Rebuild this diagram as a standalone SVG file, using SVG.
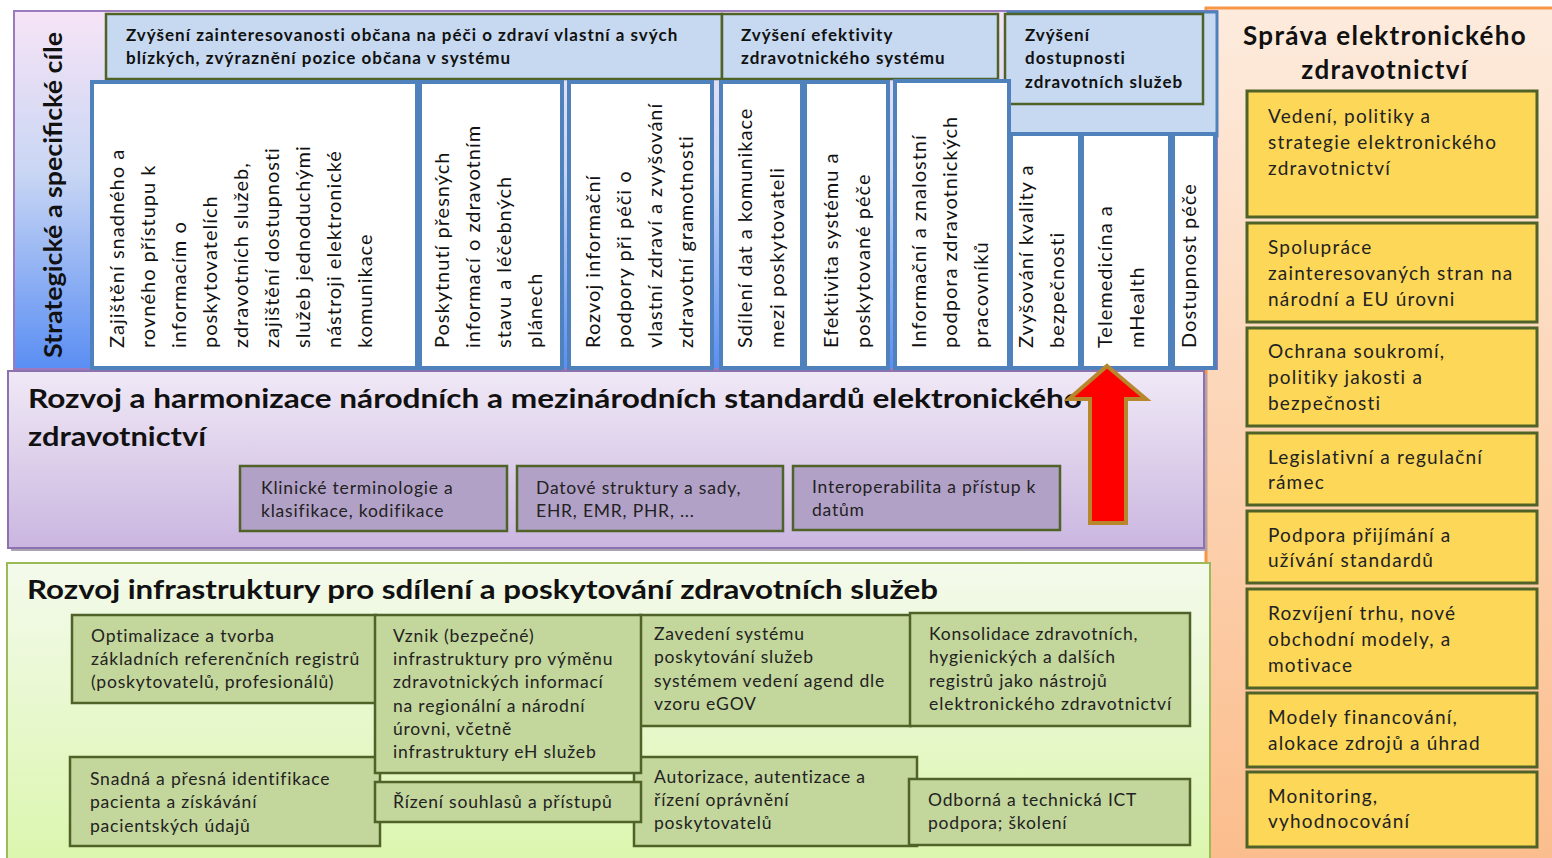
<svg xmlns="http://www.w3.org/2000/svg" width="1552" height="858" viewBox="0 0 1552 858">
<defs>
<linearGradient id="gTop" x1="0" y1="0" x2="0" y2="1">
<stop offset="0" stop-color="#f7e4f6"/><stop offset="0.45" stop-color="#c9d6f4"/><stop offset="1" stop-color="#5a8ef3"/>
</linearGradient>
<linearGradient id="gMid" x1="0" y1="0" x2="0" y2="1">
<stop offset="0" stop-color="#f0e9f6"/><stop offset="1" stop-color="#cab6e0"/>
</linearGradient>
<linearGradient id="gBot" x1="0" y1="0" x2="0" y2="1">
<stop offset="0" stop-color="#f4faec"/><stop offset="1" stop-color="#dbf6ae"/>
</linearGradient>
<linearGradient id="gOr" x1="0" y1="0" x2="0" y2="1">
<stop offset="0" stop-color="#fdebdd"/><stop offset="1" stop-color="#fbbd8c"/>
</linearGradient>
<style>
text{font-family:Lato,"Liberation Sans",sans-serif;fill:#111}
.hd{fill:#c6d9f0;stroke:#4f6228;stroke-width:2.5}
.hdt{font-size:17px;font-weight:bold;letter-spacing:1px}
.vb{fill:#fff;stroke:#4f81bd;stroke-width:4}
.vt{font-size:20px;letter-spacing:1px}
.pb{fill:#b2a1c7;stroke:#4f6228;stroke-width:2.5}
.gb{fill:#c3d69b;stroke:#4f6228;stroke-width:2.5}
.yb{fill:#fdd757;stroke:#4f6228;stroke-width:3}
.st{font-size:17.5px;fill:#222;letter-spacing:0.8px}
.yt{font-size:19px;fill:#222;letter-spacing:1.2px}
.title{font-size:26px;font-weight:bold}
.rt{font-size:26px;font-weight:bold;letter-spacing:1.3px}
</style>
</defs>

<g id="orange-panel">
<rect x="1206" y="8" width="352" height="856" fill="url(#gOr)" stroke="#f79646" stroke-width="3"/>
<text class="rt" x="1385" y="45" text-anchor="middle">Správa elektronického</text>
<text class="rt" x="1385" y="79" text-anchor="middle">zdravotnictví</text>
</g>

<g id="top-panel">
<rect x="14" y="11" width="1203" height="358" fill="url(#gTop)" stroke="#9b7bbd" stroke-width="2"/>
<text transform="translate(62,358) rotate(-90)" style="font-size:25px;font-weight:bold" textLength="326" lengthAdjust="spacingAndGlyphs">Strategické a specifické cíle</text>
<rect x="1008" y="12" width="209" height="124" fill="#c6d9f0" stroke="#4f81bd" stroke-width="3"/>
</g>

<g id="header-1"><rect class="hd" x="106" y="14" width="616" height="65"/>
<text class="hdt" x="126" y="41">Zvýšení zainteresovanosti občana na péči o zdraví vlastní a svých</text>
<text class="hdt" x="126" y="64">blízkých, zvýraznění pozice občana v systému</text></g>
<g id="header-2"><rect class="hd" x="722" y="14" width="276" height="65"/>
<text class="hdt" x="741" y="41">Zvýšení efektivity</text>
<text class="hdt" x="741" y="64">zdravotnického systému</text></g>
<g id="header-3"><rect class="hd" x="1005" y="14" width="198" height="90"/>
<text class="hdt" x="1025" y="41">Zvýšení</text>
<text class="hdt" x="1025" y="64">dostupnosti</text>
<text class="hdt" x="1025" y="88">zdravotních služeb</text></g>

<g id="goal-a"><rect class="vb" x="92" y="82" width="325" height="286"/>
<text class="vt" transform="translate(124,348) rotate(-90)"><tspan x="0" y="0">Zajištění snadného a</tspan><tspan x="0" dy="31">rovného  přístupu k</tspan><tspan x="0" dy="31">informacím o</tspan><tspan x="0" dy="31">poskytovatelích</tspan><tspan x="0" dy="31">zdravotních služeb,</tspan><tspan x="0" dy="31">zajištění dostupnosti</tspan><tspan x="0" dy="31">služeb  jednoduchými</tspan><tspan x="0" dy="31">nástroji elektronické</tspan><tspan x="0" dy="31">komunikace</tspan></text></g>
<g id="goal-b"><rect class="vb" x="420" y="82" width="142" height="286"/>
<text class="vt" transform="translate(449,348) rotate(-90)"><tspan x="0" y="0">Poskytnutí přesných</tspan><tspan x="0" dy="31">informací o zdravotním</tspan><tspan x="0" dy="31">stavu a léčebných</tspan><tspan x="0" dy="31">plánech</tspan></text></g>
<g id="goal-c"><rect class="vb" x="569" y="82" width="143" height="286"/>
<text class="vt" transform="translate(600,348) rotate(-90)"><tspan x="0" y="0">Rozvoj informační</tspan><tspan x="0" dy="31">podpory při péči o</tspan><tspan x="0" dy="31">vlastní zdraví a zvyšování</tspan><tspan x="0" dy="31">zdravotní gramotnosti</tspan></text></g>
<g id="goal-d"><rect class="vb" x="721" y="82" width="81" height="286"/>
<text class="vt" transform="translate(752,348) rotate(-90)"><tspan x="0" y="0">Sdílení dat a komunikace</tspan><tspan x="0" dy="32">mezi poskytovateli</tspan></text></g>
<g id="goal-e"><rect class="vb" x="805" y="82" width="83" height="286"/>
<text class="vt" transform="translate(838,348) rotate(-90)"><tspan x="0" y="0">Efektivita systému a</tspan><tspan x="0" dy="32">poskytované péče</tspan></text></g>
<g id="goal-f"><rect class="vb" x="895" y="81" width="114" height="287"/>
<text class="vt" transform="translate(926,348) rotate(-90)"><tspan x="0" y="0">Informační a znalostní</tspan><tspan x="0" dy="31">podpora zdravotnických</tspan><tspan x="0" dy="31">pracovníků</tspan></text></g>
<g id="goal-g"><rect class="vb" x="1011" y="134" width="69" height="234"/>
<text class="vt" transform="translate(1033,348) rotate(-90)"><tspan x="0" y="0">Zvyšování kvality a</tspan><tspan x="0" dy="31">bezpečnosti</tspan></text></g>
<g id="goal-h"><rect class="vb" x="1082" y="134" width="88" height="234"/>
<text class="vt" transform="translate(1112,348) rotate(-90)"><tspan x="0" y="0">Telemedicína a</tspan><tspan x="0" dy="32">mHealth</tspan></text></g>
<g id="goal-i"><rect class="vb" x="1173" y="134" width="42" height="234"/>
<text class="vt" transform="translate(1196,348) rotate(-90)">Dostupnost péče</text></g>

<g id="standards-panel">
<rect x="11" y="374" width="1196" height="177" fill="#a9a3b3"/>
<rect x="8" y="371" width="1196" height="177" fill="url(#gMid)" stroke="#8c73b0" stroke-width="2"/>
<text class="title" x="28" y="408" textLength="1054" lengthAdjust="spacingAndGlyphs">Rozvoj a harmonizace národních a mezinárodních standardů elektronického</text>
<text class="title" x="28" y="446" textLength="178" lengthAdjust="spacingAndGlyphs">zdravotnictví</text>
</g>
<g id="std-1"><rect class="pb" x="240" y="466" width="267" height="65"/>
<text class="st" x="261" y="494">Klinické terminologie a</text><text class="st" x="261" y="517">klasifikace, kodifikace</text></g>
<g id="std-2"><rect class="pb" x="517" y="466" width="266" height="65"/>
<text class="st" x="536" y="494">Datové struktury a sady,</text><text class="st" x="536" y="517">EHR,  EMR, PHR, ...</text></g>
<g id="std-3"><rect class="pb" x="793" y="466" width="267" height="64"/>
<text class="st" x="812" y="493">Interoperabilita a přístup k</text><text class="st" x="812" y="516">datům</text></g>

<g id="connectors">
<polygon points="1107,366 1146,399 1126,399 1126,523 1090,523 1090,399 1069,399" fill="#ff0000" stroke="#b8862b" stroke-width="4" stroke-linejoin="miter"/>
</g>

<g id="infra-panel">
<rect x="7" y="563" width="1203" height="300" fill="url(#gBot)" stroke="#9bbb59" stroke-width="2"/>
<text class="title" x="27" y="599" textLength="911" lengthAdjust="spacingAndGlyphs">Rozvoj infrastruktury pro sdílení a poskytování zdravotních služeb</text>
</g>
<g id="inf-1"><rect class="gb" x="72" y="615" width="304" height="88"/>
<text class="st" x="91" y="642">Optimalizace a tvorba</text><text class="st" x="91" y="665">základních referenčních registrů</text><text class="st" x="91" y="688">(poskytovatelů, profesionálů)</text></g>
<g id="inf-3"><rect class="gb" x="640" y="615" width="271" height="111"/>
<text class="st" x="654" y="640">Zavedení systému</text><text class="st" x="654" y="663">poskytování služeb</text><text class="st" x="654" y="687">systémem vedení agend dle</text><text class="st" x="654" y="710">vzoru eGOV</text></g>
<g id="inf-4"><rect class="gb" x="910" y="613" width="280" height="113"/>
<text class="st" x="929" y="640">Konsolidace zdravotních,</text><text class="st" x="929" y="663">hygienických a dalších</text><text class="st" x="929" y="687">registrů jako nástrojů</text><text class="st" x="929" y="710" textLength="243" lengthAdjust="spacing">elektronického zdravotnictví</text></g>
<g id="inf-5"><rect class="gb" x="70" y="757" width="310" height="89"/>
<text class="st" x="90" y="785">Snadná a přesná identifikace</text><text class="st" x="90" y="808">pacienta a získávání</text><text class="st" x="90" y="832">pacientských údajů</text></g>
<g id="inf-7"><rect class="gb" x="634" y="757" width="283" height="89"/>
<text class="st" x="654" y="783">Autorizace, autentizace a</text><text class="st" x="654" y="806">řízení oprávnění</text><text class="st" x="654" y="829">poskytovatelů</text></g>
<g id="inf-2"><rect class="gb" x="375" y="615" width="266" height="158"/>
<text class="st" x="393" y="642">Vznik (bezpečné)</text><text class="st" x="393" y="665">infrastruktury pro výměnu</text><text class="st" x="393" y="688">zdravotnických informací</text><text class="st" x="393" y="712">na regionální a národní</text><text class="st" x="393" y="735">úrovni, včetně</text><text class="st" x="393" y="758">infrastruktury eH služeb</text></g>
<g id="inf-6"><rect class="gb" x="375" y="782" width="266" height="40"/>
<text class="st" x="393" y="808">Řízení souhlasů a přístupů</text></g>
<g id="inf-8"><rect class="gb" x="909" y="779" width="281" height="66"/>
<text class="st" x="928" y="806">Odborná a technická ICT</text><text class="st" x="928" y="829">podpora; školení</text></g>

<g id="gov-1"><rect class="yb" x="1247" y="91" width="290" height="126"/>
<text class="yt" x="1268" y="123">Vedení, politiky a</text><text class="yt" x="1268" y="149">strategie elektronického</text><text class="yt" x="1268" y="175">zdravotnictví</text></g>
<g id="gov-2"><rect class="yb" x="1247" y="223" width="290" height="99"/>
<text class="yt" x="1268" y="254">Spolupráce</text><text class="yt" x="1268" y="280">zainteresovaných stran na</text><text class="yt" x="1268" y="306">národní a EU úrovni</text></g>
<g id="gov-3"><rect class="yb" x="1247" y="328" width="290" height="98"/>
<text class="yt" x="1268" y="358">Ochrana soukromí,</text><text class="yt" x="1268" y="384">politiky jakosti a</text><text class="yt" x="1268" y="410">bezpečnosti</text></g>
<g id="gov-4"><rect class="yb" x="1247" y="433" width="290" height="72"/>
<text class="yt" x="1268" y="464">Legislativní a regulační</text><text class="yt" x="1268" y="489">rámec</text></g>
<g id="gov-5"><rect class="yb" x="1247" y="511" width="290" height="72"/>
<text class="yt" x="1268" y="542">Podpora přijímání a</text><text class="yt" x="1268" y="567">užívání standardů</text></g>
<g id="gov-6"><rect class="yb" x="1247" y="589" width="290" height="99"/>
<text class="yt" x="1268" y="620">Rozvíjení trhu, nové</text><text class="yt" x="1268" y="646">obchodní modely, a</text><text class="yt" x="1268" y="672">motivace</text></g>
<g id="gov-7"><rect class="yb" x="1247" y="693" width="290" height="74"/>
<text class="yt" x="1268" y="724">Modely financování,</text><text class="yt" x="1268" y="750">alokace zdrojů a úhrad</text></g>
<g id="gov-8"><rect class="yb" x="1247" y="772" width="290" height="75"/>
<text class="yt" x="1268" y="803">Monitoring,</text><text class="yt" x="1268" y="828">vyhodnocování</text></g>
</svg>
